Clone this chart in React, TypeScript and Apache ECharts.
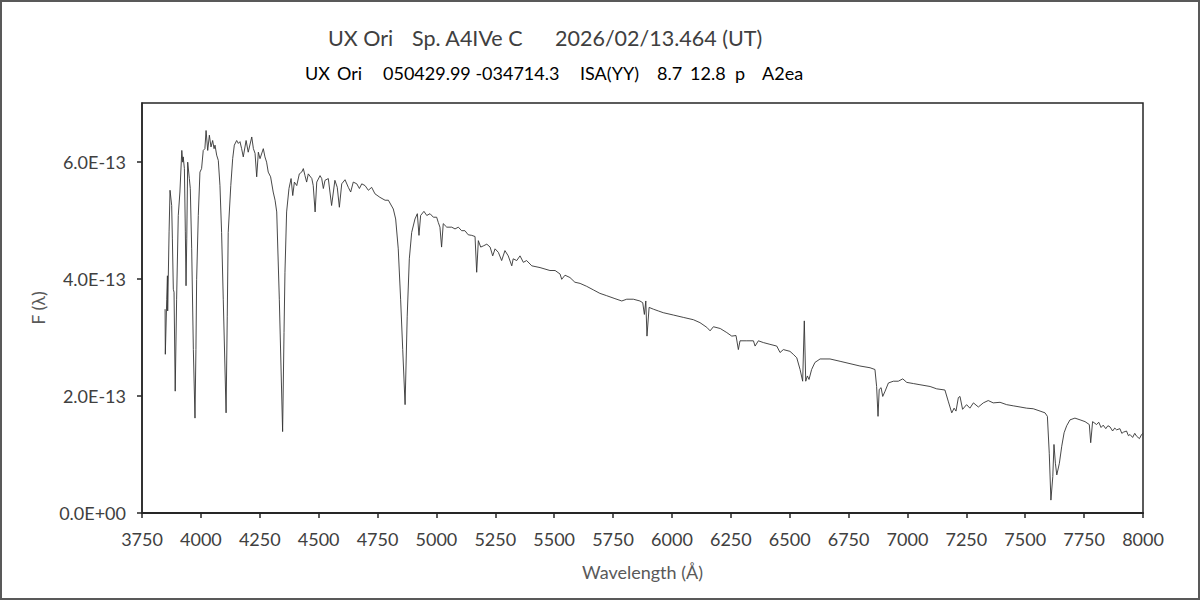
import React, { useEffect, useRef } from "react";
import * as echarts from "echarts";

// Wavelength (Å)
const wavelengths: number[] = [
  3848, 3849, 3855, 3858, 3859, 3865, 3869, 3876, 3879, 3883, 3886, 3891, 3897, 3904, 3911, 3919, 3923, 3925, 3930, 3934,
  3937, 3940, 3944, 3951, 3955, 3961, 3968, 3975, 3979, 3982, 3989, 3996, 4003, 4010, 4017, 4022, 4029, 4036, 4043, 4050,
  4056, 4060, 4067, 4074, 4081, 4088, 4095, 4107, 4112, 4116, 4127, 4135, 4142, 4152, 4159, 4166, 4173, 4180, 4192, 4201,
  4216, 4223, 4230, 4237, 4244, 4251, 4265, 4272, 4279, 4286, 4296, 4307, 4315, 4322, 4333, 4347, 4353, 4357, 4364, 4374,
  4383, 4390, 4397, 4407, 4418, 4428, 4435, 4442, 4449, 4456, 4471, 4477, 4485, 4492, 4506, 4513, 4520, 4527, 4541, 4548,
  4555, 4569, 4579, 4588, 4598, 4612, 4626, 4636, 4647, 4662, 4673, 4683, 4697, 4711, 4725, 4739, 4760, 4782, 4796, 4817,
  4827, 4838, 4848, 4857, 4867, 4871, 4876, 4885, 4895, 4909, 4919, 4926, 4933, 4947, 4959, 4973, 4987, 5001, 5008, 5015,
  5022, 5029, 5044, 5065, 5079, 5093, 5107, 5121, 5135, 5150, 5164, 5171, 5178, 5188, 5199, 5214, 5228, 5239, 5249, 5263,
  5277, 5291, 5305, 5320, 5326, 5341, 5355, 5369, 5383, 5405, 5440, 5482, 5504, 5525, 5532, 5546, 5567, 5588, 5610, 5638,
  5666, 5694, 5723, 5758, 5787, 5808, 5836, 5864, 5876, 5883, 5889, 5894, 5903, 5921, 5942, 5963, 6006, 6048, 6091, 6119,
  6148, 6162, 6176, 6205, 6233, 6254, 6272, 6282, 6289, 6318, 6346, 6353, 6367, 6388, 6416, 6445, 6459, 6473, 6501, 6515,
  6530, 6544, 6555, 6562, 6568, 6575, 6582, 6593, 6607, 6629, 6671, 6714, 6756, 6798, 6841, 6862, 6869, 6875, 6880, 6888,
  6895, 6905, 6919, 6940, 6961, 6980, 6997, 7025, 7053, 7096, 7124, 7159, 7173, 7188, 7198, 7206, 7216, 7223, 7234, 7251,
  7265, 7280, 7301, 7322, 7343, 7364, 7393, 7421, 7449, 7478, 7506, 7534, 7563, 7584, 7594, 7602, 7609, 7617, 7622, 7628,
  7634, 7645, 7655, 7665, 7676, 7690, 7711, 7733, 7754, 7772, 7778, 7786, 7803, 7812, 7822, 7831, 7842, 7851, 7860, 7871,
  7880, 7888, 7902, 7910, 7917, 7930, 7938, 7945, 7956, 7965, 7973, 7985, 7994, 8000,
];

// Flux F(λ) in units of 1E-13
const fluxes: number[] = [
  3.48, 2.71, 3.65, 4.05, 3.45, 4.80, 5.51, 5.25, 4.68, 3.82, 3.77, 2.08, 3.65, 5.08, 5.48, 6.19, 5.99, 6.08, 5.88, 4.80,
  3.88, 4.68, 5.99, 5.71, 5.54, 4.51, 2.79, 1.62, 2.79, 3.99, 5.08, 5.82, 5.88, 6.19, 6.22, 6.53, 6.19, 6.45, 6.25, 6.36,
  6.22, 6.28, 6.11, 6.02, 5.59, 4.79, 3.65, 1.71, 3.36, 4.79, 5.59, 6.05, 6.28, 6.36, 6.31, 6.34, 6.22, 6.08, 6.36, 6.16,
  6.42, 6.22, 6.14, 5.74, 6.16, 6.05, 6.22, 6.08, 5.99, 5.82, 5.74, 5.48, 5.34, 5.14, 3.65, 1.39, 3.08, 4.11, 5.14, 5.54,
  5.71, 5.42, 5.65, 5.59, 5.79, 5.82, 5.88, 5.76, 5.65, 5.79, 5.71, 5.59, 5.14, 5.65, 5.76, 5.71, 5.54, 5.68, 5.71, 5.48,
  5.25, 5.68, 5.56, 5.22, 5.62, 5.69, 5.56, 5.48, 5.65, 5.62, 5.54, 5.62, 5.59, 5.51, 5.56, 5.45, 5.39, 5.34, 5.34, 5.19,
  5.02, 4.51, 3.65, 2.79, 1.85, 2.51, 3.36, 4.34, 4.79, 5.02, 5.11, 4.74, 5.08, 5.15, 5.08, 5.11, 5.05, 5.05, 4.96, 4.88,
  4.54, 4.94, 4.88, 4.88, 4.85, 4.88, 4.82, 4.82, 4.75, 4.74, 4.72, 4.11, 4.65, 4.54, 4.56, 4.59, 4.54, 4.39, 4.51, 4.45,
  4.31, 4.48, 4.39, 4.22, 4.34, 4.31, 4.39, 4.28, 4.31, 4.22, 4.19, 4.14, 4.14, 4.08, 3.99, 4.06, 4.02, 3.94, 3.92, 3.87,
  3.81, 3.75, 3.71, 3.66, 3.62, 3.65, 3.65, 3.62, 3.59, 3.39, 3.62, 3.02, 3.51, 3.48, 3.45, 3.42, 3.38, 3.34, 3.30, 3.25,
  3.17, 3.11, 3.18, 3.15, 3.08, 3.02, 3.03, 2.79, 2.94, 2.94, 2.94, 2.85, 2.94, 2.91, 2.88, 2.85, 2.74, 2.79, 2.76, 2.71,
  2.65, 2.45, 2.25, 3.28, 2.25, 2.34, 2.28, 2.45, 2.57, 2.63, 2.63, 2.59, 2.55, 2.51, 2.48, 2.45, 2.16, 1.65, 2.11, 2.14,
  1.99, 2.08, 2.22, 2.25, 2.25, 2.29, 2.23, 2.21, 2.19, 2.16, 2.12, 2.10, 1.91, 1.71, 1.79, 1.74, 1.97, 1.99, 1.77, 1.85,
  1.79, 1.88, 1.81, 1.88, 1.92, 1.88, 1.89, 1.85, 1.83, 1.81, 1.79, 1.78, 1.74, 1.71, 1.65, 1.02, 0.22, 0.62, 1.17, 0.85,
  0.65, 0.85, 1.14, 1.37, 1.49, 1.59, 1.62, 1.59, 1.56, 1.51, 1.20, 1.56, 1.51, 1.55, 1.46, 1.50, 1.44, 1.49, 1.47, 1.40,
  1.45, 1.42, 1.44, 1.36, 1.38, 1.40, 1.32, 1.34, 1.29, 1.36, 1.31, 1.27, 1.34, 1.36,
];

const xTicks = { min: 3750, max: 8000, step: 250 };
const yLabelValues: number[] = [0, 2, 4, 6];

const titleParts: { text: string; x: number }[] = [
  { text: "UX Ori", x: 328 },
  { text: "Sp. A4IVe C", x: 412 },
  { text: "2026/02/13.464 (UT)", x: 555 },
];
const subtitleParts: { text: string; x: number }[] = [
  { text: "UX", x: 305 },
  { text: "Ori", x: 337 },
  { text: "050429.99 -034714.3", x: 383 },
  { text: "ISA(YY)", x: 580 },
  { text: "8.7", x: 657 },
  { text: "12.8", x: 690 },
  { text: "p", x: 735 },
  { text: "A2ea", x: 762 },
];

const FONT = "Lato, 'Noto Sans', sans-serif";

export default function App() {
  const ref = useRef<HTMLDivElement>(null);
  useEffect(() => {
    if (!ref.current) return;
    const chart = echarts.init(ref.current, undefined, { renderer: "svg" });
    const data = wavelengths.map((w, i) => [w, fluxes[i]]);
    const graphics: any[] = [
      {
        type: "rect",
        shape: { x: 1, y: 1, width: 1198, height: 598 },
        style: { fill: "none", stroke: "#595959", lineWidth: 2 },
        silent: true,
      },
    ];
    titleParts.forEach((p) =>
      graphics.push({
        type: "text",
        x: p.x,
        y: 38,
        style: { text: p.text, font: `21.5px ${FONT}`, fill: "#404040", textVerticalAlign: "middle" },
      })
    );
    subtitleParts.forEach((p) =>
      graphics.push({
        type: "text",
        x: p.x,
        y: 73,
        style: { text: p.text, font: `18px ${FONT}`, fill: "#000000", textVerticalAlign: "middle" },
      })
    );
    chart.setOption({
      animation: false,
      backgroundColor: "#ffffff",
      grid: {
        left: 142,
        right: 57,
        top: 103,
        bottom: 87,
        show: true,
        borderColor: "#262626",
        borderWidth: 1.5,
        backgroundColor: "transparent",
      },
      graphic: graphics,
      xAxis: {
        type: "value",
        min: xTicks.min,
        max: xTicks.max,
        interval: xTicks.step,
        name: "Wavelength (Å)",
        nameLocation: "middle",
        nameGap: 50,
        nameTextStyle: { fontFamily: FONT, fontSize: 18, color: "#595959" },
        axisLine: { show: true, lineStyle: { color: "#262626", width: 2 } },
        axisTick: { show: true, inside: false, length: 5, lineStyle: { color: "#262626", width: 1.5 } },
        axisLabel: {
          fontFamily: FONT,
          fontSize: 18,
          color: "#404040",
          margin: 17,
          formatter: (v: number) => String(v),
        },
        splitLine: { show: false },
      },
      yAxis: {
        type: "value",
        min: 0,
        max: 7,
        name: "F (λ)",
        nameLocation: "middle",
        nameGap: 95,
        nameRotate: 90,
        nameTextStyle: { fontFamily: FONT, fontSize: 18, color: "#595959" },
        axisLine: { show: true, onZero: false, lineStyle: { color: "#262626", width: 1.5 } },
        axisTick: {
          show: true,
          length: 5,
          customValues: yLabelValues,
          lineStyle: { color: "#262626", width: 1.5 },
        },
        axisLabel: {
          customValues: yLabelValues,
          fontFamily: FONT,
          fontSize: 18,
          color: "#404040",
          margin: 16,
          formatter: (v: number) => (v === 0 ? "0.0E+00" : `${v.toFixed(1)}E-13`),
        },
        splitLine: { show: false },
      },
      series: [
        {
          type: "line",
          data,
          showSymbol: false,
          symbol: "none",
          lineStyle: { color: "#333333", width: 0.9 },
        },
      ],
    });
    return () => chart.dispose();
  }, []);
  return (
    <div
      ref={ref}
      style={{ position: "fixed", left: 0, top: 0, width: 1200, height: 600, background: "#fff" }}
    />
  );
}
